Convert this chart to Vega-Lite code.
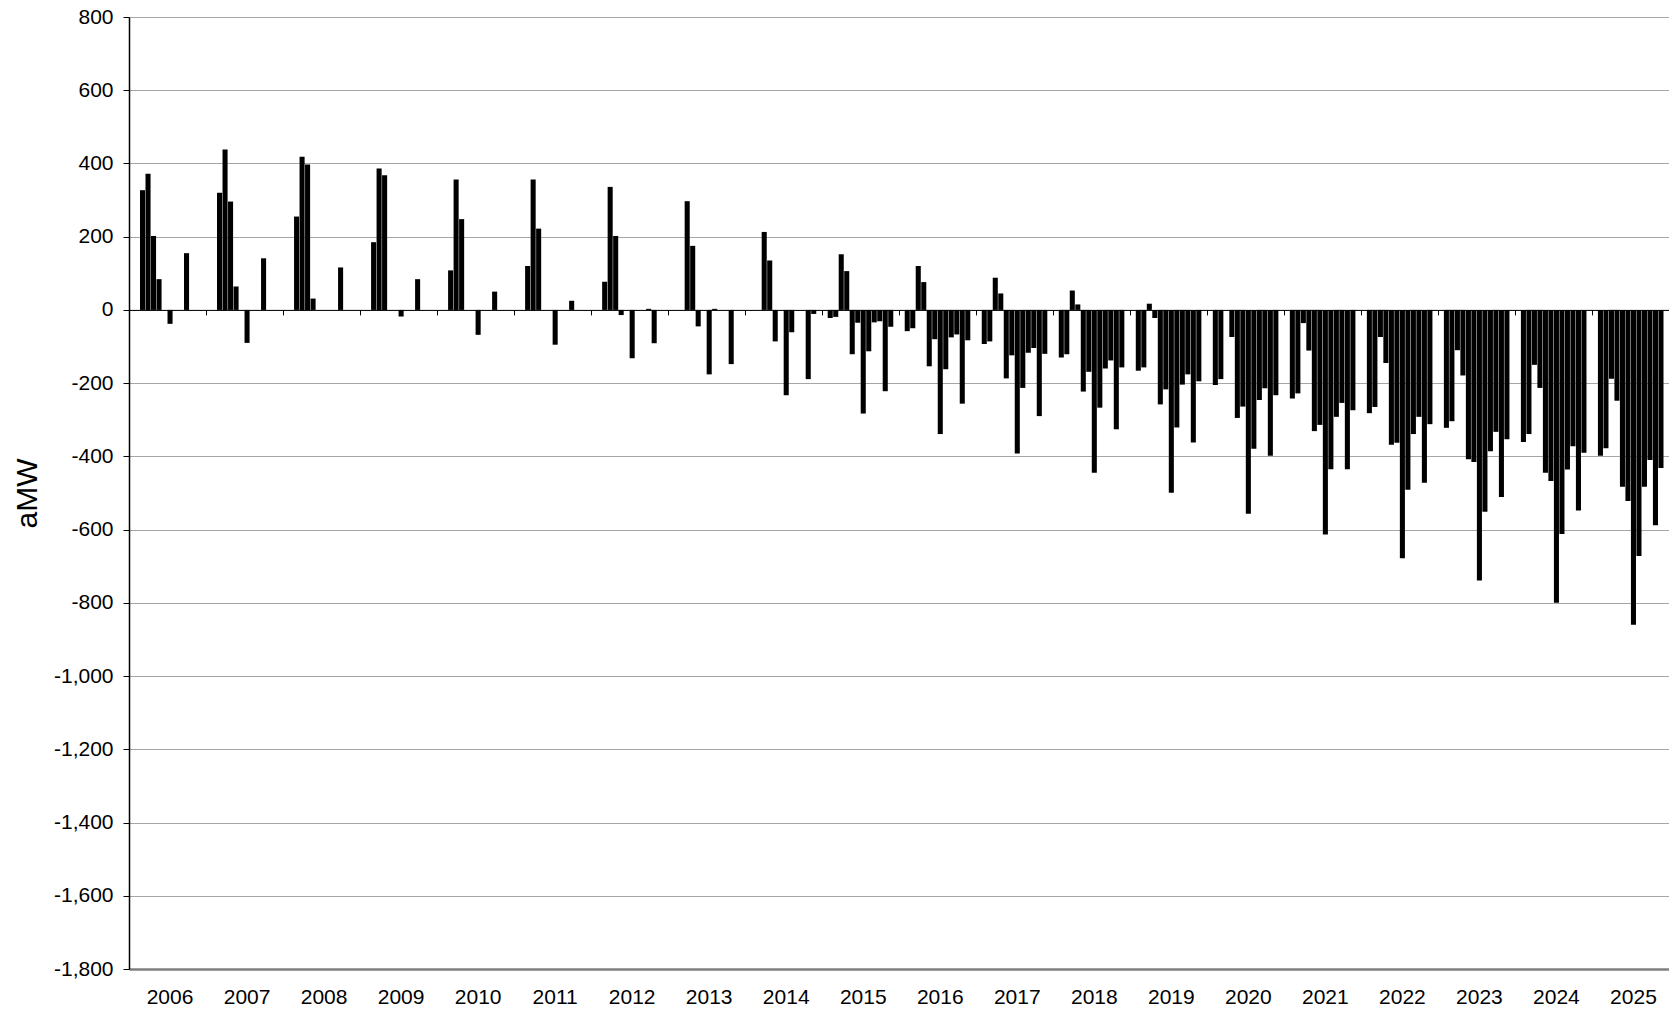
{
  "$schema": "https://vega.github.io/schema/vega-lite/v6.json",
  "width": 1540,
  "height": 952,
  "autosize": {"type": "none"},
  "padding": {"left": 129, "top": 17, "right": 0, "bottom": 42},
  "background": "white",
  "config": {
    "view": {"stroke": null},
    "font": "Liberation Sans"
  },
  "data": {
    "values": [
      {"period": "2006-02", "aMW": 327}, {"period": "2006-03", "aMW": 372}, {"period": "2006-04", "aMW": 202}, {"period": "2006-05", "aMW": 84}, {"period": "2006-07", "aMW": -38}, {"period": "2006-10", "aMW": 155},
      {"period": "2007-02", "aMW": 320}, {"period": "2007-03", "aMW": 438}, {"period": "2007-04", "aMW": 296}, {"period": "2007-05", "aMW": 64}, {"period": "2007-07", "aMW": -90}, {"period": "2007-10", "aMW": 141},
      {"period": "2008-02", "aMW": 255}, {"period": "2008-03", "aMW": 418}, {"period": "2008-04", "aMW": 397}, {"period": "2008-05", "aMW": 31}, {"period": "2008-10", "aMW": 116},
      {"period": "2009-02", "aMW": 185}, {"period": "2009-03", "aMW": 386}, {"period": "2009-04", "aMW": 368}, {"period": "2009-07", "aMW": -18}, {"period": "2009-10", "aMW": 84},
      {"period": "2010-02", "aMW": 108}, {"period": "2010-03", "aMW": 356}, {"period": "2010-04", "aMW": 248}, {"period": "2010-07", "aMW": -68}, {"period": "2010-10", "aMW": 50},
      {"period": "2011-02", "aMW": 120}, {"period": "2011-03", "aMW": 356}, {"period": "2011-04", "aMW": 222}, {"period": "2011-07", "aMW": -95}, {"period": "2011-10", "aMW": 25},
      {"period": "2012-02", "aMW": 77}, {"period": "2012-03", "aMW": 336}, {"period": "2012-04", "aMW": 202}, {"period": "2012-05", "aMW": -14}, {"period": "2012-07", "aMW": -132}, {"period": "2012-10", "aMW": 3}, {"period": "2012-11", "aMW": -91},
      {"period": "2013-03", "aMW": 297}, {"period": "2013-04", "aMW": 175}, {"period": "2013-05", "aMW": -45}, {"period": "2013-07", "aMW": -176}, {"period": "2013-08", "aMW": 3}, {"period": "2013-11", "aMW": -148},
      {"period": "2014-03", "aMW": 213}, {"period": "2014-04", "aMW": 135}, {"period": "2014-05", "aMW": -86}, {"period": "2014-07", "aMW": -233}, {"period": "2014-08", "aMW": -61}, {"period": "2014-11", "aMW": -189}, {"period": "2014-12", "aMW": -11},
      {"period": "2015-01", "aMW": -22}, {"period": "2015-02", "aMW": -19}, {"period": "2015-03", "aMW": 152}, {"period": "2015-04", "aMW": 106}, {"period": "2015-05", "aMW": -121}, {"period": "2015-06", "aMW": -35}, {"period": "2015-07", "aMW": -283}, {"period": "2015-08", "aMW": -113}, {"period": "2015-09", "aMW": -34}, {"period": "2015-10", "aMW": -31}, {"period": "2015-11", "aMW": -222}, {"period": "2015-12", "aMW": -46},
      {"period": "2016-01", "aMW": -58}, {"period": "2016-02", "aMW": -50}, {"period": "2016-03", "aMW": 120}, {"period": "2016-04", "aMW": 76}, {"period": "2016-05", "aMW": -154}, {"period": "2016-06", "aMW": -80}, {"period": "2016-07", "aMW": -339}, {"period": "2016-08", "aMW": -162}, {"period": "2016-09", "aMW": -75}, {"period": "2016-10", "aMW": -67}, {"period": "2016-11", "aMW": -256}, {"period": "2016-12", "aMW": -83},
      {"period": "2017-01", "aMW": -93}, {"period": "2017-02", "aMW": -86}, {"period": "2017-03", "aMW": 88}, {"period": "2017-04", "aMW": 45}, {"period": "2017-05", "aMW": -187}, {"period": "2017-06", "aMW": -124}, {"period": "2017-07", "aMW": -392}, {"period": "2017-08", "aMW": -213}, {"period": "2017-09", "aMW": -117}, {"period": "2017-10", "aMW": -104}, {"period": "2017-11", "aMW": -290}, {"period": "2017-12", "aMW": -120},
      {"period": "2018-01", "aMW": -130}, {"period": "2018-02", "aMW": -121}, {"period": "2018-03", "aMW": 53}, {"period": "2018-04", "aMW": 15}, {"period": "2018-05", "aMW": -223}, {"period": "2018-06", "aMW": -169}, {"period": "2018-07", "aMW": -445}, {"period": "2018-08", "aMW": -267}, {"period": "2018-09", "aMW": -160}, {"period": "2018-10", "aMW": -138}, {"period": "2018-11", "aMW": -326}, {"period": "2018-12", "aMW": -157},
      {"period": "2019-01", "aMW": -166}, {"period": "2019-02", "aMW": -157}, {"period": "2019-03", "aMW": 17}, {"period": "2019-04", "aMW": -22}, {"period": "2019-05", "aMW": -258}, {"period": "2019-06", "aMW": -217}, {"period": "2019-07", "aMW": -499}, {"period": "2019-08", "aMW": -321}, {"period": "2019-09", "aMW": -204}, {"period": "2019-10", "aMW": -176}, {"period": "2019-11", "aMW": -362}, {"period": "2019-12", "aMW": -195},
      {"period": "2020-01", "aMW": -205}, {"period": "2020-02", "aMW": -189}, {"period": "2020-04", "aMW": -74}, {"period": "2020-05", "aMW": -295}, {"period": "2020-06", "aMW": -264}, {"period": "2020-07", "aMW": -557}, {"period": "2020-08", "aMW": -379}, {"period": "2020-09", "aMW": -246}, {"period": "2020-10", "aMW": -214}, {"period": "2020-11", "aMW": -398}, {"period": "2020-12", "aMW": -233},
      {"period": "2021-01", "aMW": -242}, {"period": "2021-02", "aMW": -228}, {"period": "2021-03", "aMW": -36}, {"period": "2021-04", "aMW": -111}, {"period": "2021-05", "aMW": -331}, {"period": "2021-06", "aMW": -314}, {"period": "2021-07", "aMW": -613}, {"period": "2021-08", "aMW": -435}, {"period": "2021-09", "aMW": -292}, {"period": "2021-10", "aMW": -254}, {"period": "2021-11", "aMW": -435}, {"period": "2021-12", "aMW": -274},
      {"period": "2022-01", "aMW": -282}, {"period": "2022-02", "aMW": -265}, {"period": "2022-03", "aMW": -74}, {"period": "2022-04", "aMW": -145}, {"period": "2022-05", "aMW": -368}, {"period": "2022-06", "aMW": -363}, {"period": "2022-07", "aMW": -678}, {"period": "2022-08", "aMW": -491}, {"period": "2022-09", "aMW": -339}, {"period": "2022-10", "aMW": -292}, {"period": "2022-11", "aMW": -472}, {"period": "2022-12", "aMW": -312},
      {"period": "2023-01", "aMW": -322}, {"period": "2023-02", "aMW": -304}, {"period": "2023-03", "aMW": -110}, {"period": "2023-04", "aMW": -179}, {"period": "2023-05", "aMW": -408}, {"period": "2023-06", "aMW": -415}, {"period": "2023-07", "aMW": -739}, {"period": "2023-08", "aMW": -551}, {"period": "2023-09", "aMW": -386}, {"period": "2023-10", "aMW": -333}, {"period": "2023-11", "aMW": -511}, {"period": "2023-12", "aMW": -353},
      {"period": "2024-01", "aMW": -361}, {"period": "2024-02", "aMW": -339}, {"period": "2024-03", "aMW": -150}, {"period": "2024-04", "aMW": -213}, {"period": "2024-05", "aMW": -445}, {"period": "2024-06", "aMW": -467}, {"period": "2024-07", "aMW": -800}, {"period": "2024-08", "aMW": -612}, {"period": "2024-09", "aMW": -436}, {"period": "2024-10", "aMW": -372}, {"period": "2024-11", "aMW": -548}, {"period": "2024-12", "aMW": -390},
      {"period": "2025-01", "aMW": -398}, {"period": "2025-02", "aMW": -378}, {"period": "2025-03", "aMW": -188}, {"period": "2025-04", "aMW": -248}, {"period": "2025-05", "aMW": -483}, {"period": "2025-06", "aMW": -522}, {"period": "2025-07", "aMW": -860}, {"period": "2025-08", "aMW": -672}, {"period": "2025-09", "aMW": -483}, {"period": "2025-10", "aMW": -410}, {"period": "2025-11", "aMW": -588}, {"period": "2025-12", "aMW": -432}
    ]
  },
  "resolve": {"axis": {"x": "independent"}},
  "layer": [
    {
      "mark": {"type": "bar", "color": "black"},
      "encoding": {
        "x": {
          "field": "period",
          "type": "ordinal",
          "scale": {
            "paddingInner": 0.08,
            "paddingOuter": 0,
            "domain": [
              "2006-00","2006-01","2006-02","2006-03","2006-04","2006-05","2006-06","2006-07","2006-08","2006-09","2006-10","2006-11","2006-12","2006-13",
              "2007-00","2007-01","2007-02","2007-03","2007-04","2007-05","2007-06","2007-07","2007-08","2007-09","2007-10","2007-11","2007-12","2007-13",
              "2008-00","2008-01","2008-02","2008-03","2008-04","2008-05","2008-06","2008-07","2008-08","2008-09","2008-10","2008-11","2008-12","2008-13",
              "2009-00","2009-01","2009-02","2009-03","2009-04","2009-05","2009-06","2009-07","2009-08","2009-09","2009-10","2009-11","2009-12","2009-13",
              "2010-00","2010-01","2010-02","2010-03","2010-04","2010-05","2010-06","2010-07","2010-08","2010-09","2010-10","2010-11","2010-12","2010-13",
              "2011-00","2011-01","2011-02","2011-03","2011-04","2011-05","2011-06","2011-07","2011-08","2011-09","2011-10","2011-11","2011-12","2011-13",
              "2012-00","2012-01","2012-02","2012-03","2012-04","2012-05","2012-06","2012-07","2012-08","2012-09","2012-10","2012-11","2012-12","2012-13",
              "2013-00","2013-01","2013-02","2013-03","2013-04","2013-05","2013-06","2013-07","2013-08","2013-09","2013-10","2013-11","2013-12","2013-13",
              "2014-00","2014-01","2014-02","2014-03","2014-04","2014-05","2014-06","2014-07","2014-08","2014-09","2014-10","2014-11","2014-12","2014-13",
              "2015-00","2015-01","2015-02","2015-03","2015-04","2015-05","2015-06","2015-07","2015-08","2015-09","2015-10","2015-11","2015-12","2015-13",
              "2016-00","2016-01","2016-02","2016-03","2016-04","2016-05","2016-06","2016-07","2016-08","2016-09","2016-10","2016-11","2016-12","2016-13",
              "2017-00","2017-01","2017-02","2017-03","2017-04","2017-05","2017-06","2017-07","2017-08","2017-09","2017-10","2017-11","2017-12","2017-13",
              "2018-00","2018-01","2018-02","2018-03","2018-04","2018-05","2018-06","2018-07","2018-08","2018-09","2018-10","2018-11","2018-12","2018-13",
              "2019-00","2019-01","2019-02","2019-03","2019-04","2019-05","2019-06","2019-07","2019-08","2019-09","2019-10","2019-11","2019-12","2019-13",
              "2020-00","2020-01","2020-02","2020-03","2020-04","2020-05","2020-06","2020-07","2020-08","2020-09","2020-10","2020-11","2020-12","2020-13",
              "2021-00","2021-01","2021-02","2021-03","2021-04","2021-05","2021-06","2021-07","2021-08","2021-09","2021-10","2021-11","2021-12","2021-13",
              "2022-00","2022-01","2022-02","2022-03","2022-04","2022-05","2022-06","2022-07","2022-08","2022-09","2022-10","2022-11","2022-12","2022-13",
              "2023-00","2023-01","2023-02","2023-03","2023-04","2023-05","2023-06","2023-07","2023-08","2023-09","2023-10","2023-11","2023-12","2023-13",
              "2024-00","2024-01","2024-02","2024-03","2024-04","2024-05","2024-06","2024-07","2024-08","2024-09","2024-10","2024-11","2024-12","2024-13",
              "2025-00","2025-01","2025-02","2025-03","2025-04","2025-05","2025-06","2025-07","2025-08","2025-09","2025-10","2025-11","2025-12","2025-13"
            ]
          },
          "axis": {
            "orient": "bottom",
            "offset": -659.1,
            "values": ["2006-00","2007-00","2008-00","2009-00","2010-00","2011-00","2012-00","2013-00","2014-00","2015-00","2016-00","2017-00","2018-00","2019-00","2020-00","2021-00","2022-00","2023-00","2024-00","2025-00"],
            "bandPosition": 0,
            "labels": false,
            "title": null,
            "grid": false,
            "ticks": true,
            "tickSize": 5,
            "tickColor": "black",
            "tickWidth": 1,
            "domain": true,
            "domainColor": "black",
            "domainWidth": 1
          }
        },
        "y": {
          "field": "aMW",
          "type": "quantitative",
          "scale": {"domain": [-1800, 800], "nice": false, "zero": false},
          "axis": {
            "values": [-1800, -1600, -1400, -1200, -1000, -800, -600, -400, -200, 0, 200, 400, 600, 800],
            "labelExpr": "replace(format(datum.value, ',.0f'), '\u2212', '-')",
            "title": "aMW",
            "titleFont": "Liberation Sans",
            "titleFontSize": 30,
            "titleFontWeight": "normal",
            "titleColor": "black",
            "titleAngle": -90,
            "titleX": -102,
            "titleY": 476,
            "titleAlign": "center",
            "titleBaseline": "middle",
            "labelFont": "Liberation Sans",
            "labelFontSize": 21,
            "labelColor": "black",
            "labelPadding": 10,
            "tickSize": 6,
            "tickColor": "black",
            "domainColor": "black",
            "domainWidth": 1.5,
            "grid": true,
            "gridColor": "#a6a6a6",
            "gridWidth": 1
          }
        }
      }
    },
    {
      "mark": {"type": "rule", "opacity": 0},
      "encoding": {
        "x": {
          "field": "period",
          "type": "ordinal",
          "axis": {
            "orient": "bottom",
            "values": ["2006-07","2007-07","2008-07","2009-07","2010-07","2011-07","2012-07","2013-07","2014-07","2015-07","2016-07","2017-07","2018-07","2019-07","2020-07","2021-07","2022-07","2023-07","2024-07","2025-07"],
            "bandPosition": 0,
            "labelExpr": "substring(datum.value, 0, 4)",
            "labelFont": "Liberation Sans",
            "labelFontSize": 21,
            "labelColor": "black",
            "labelAngle": 0,
            "labelAlign": "center",
            "labelBaseline": "top",
            "labelPadding": 17,
            "ticks": false,
            "tickSize": 0,
            "grid": false,
            "title": null,
            "domain": true,
            "domainColor": "#7f7f7f",
            "domainWidth": 2.5
          }
        },
        "y": {"datum": 0},
        "y2": {"datum": 0}
      }
    }
  ]
}
